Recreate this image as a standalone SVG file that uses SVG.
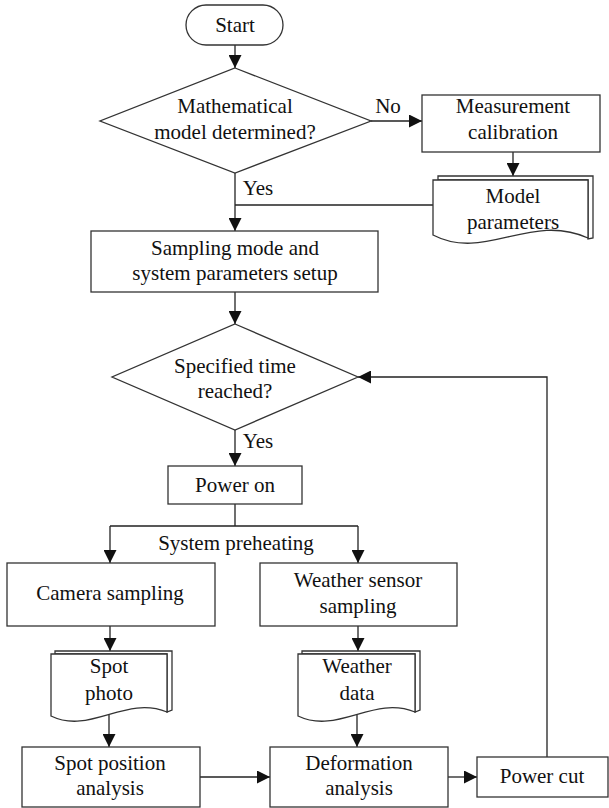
<svg xmlns="http://www.w3.org/2000/svg" width="609" height="808" viewBox="0 0 609 808">
<defs>
<marker id="arr" markerUnits="userSpaceOnUse" markerWidth="13" markerHeight="13" refX="13" refY="6.5" orient="auto">
<path d="M0,0 L13,6.5 L0,13 z" fill="#111"/>
</marker>
</defs>
<style>
.s{fill:#fff;stroke:#333;stroke-width:1.3}
.c{fill:none;stroke:#222;stroke-width:1.3}
.a{marker-end:url(#arr)}
.t{font-size:21px;fill:#111;text-anchor:middle}
</style>
<rect width="609" height="808" fill="#fff"/>
<g id="connectors">
<path class="c a" d="M235,45 V68"/>
<path class="c a" d="M371,121 H422"/>
<path class="c a" d="M513,152 V176"/>
<path class="c" d="M433,205 H235"/>
<path class="c a" d="M235,173 V231"/>
<path class="c a" d="M235,292 V324"/>
<path class="c a" d="M235,430 V466"/>
<path class="c" d="M235,504 V526 M110,526 H358"/>
<path class="c a" d="M110,526 V563"/>
<path class="c a" d="M358,526 V563"/>
<path class="c a" d="M110,626 V651"/>
<path class="c a" d="M109,715 V747"/>
<path class="c a" d="M358,626 V651"/>
<path class="c a" d="M357,715 V747"/>
<path class="c a" d="M200,777 H270"/>
<path class="c a" d="M448,777 H477"/>
<path class="c a" d="M547,757 V377 H358"/>
</g>
<g class="t" font-family="Liberation Serif, Times New Roman, serif">
<g id="start">
<rect class="s" x="186" y="5" width="97" height="40" rx="20"/>
<text x="235" y="32">Start</text>
</g>
<g id="decision1">
<polygon class="s" points="235,68 371,121 235,173 100,121"/>
<text x="235" y="113">Mathematical</text>
<text x="235" y="139">model determined?</text>
</g>
<text x="388" y="113">No</text>
<text x="258" y="195">Yes</text>
<g id="calibration">
<rect class="s" x="422" y="95" width="178" height="57"/>
<text x="513" y="113">Measurement</text>
<text x="513" y="139">calibration</text>
</g>
<g id="model-params">
<path class="s" d="M438,176 H593 V238 L588,239 V180 H438 z"/>
<path class="s" d="M433,180 H588 V238 C530,212 485,262 433,235 z"/>
<text x="513" y="203">Model</text>
<text x="513" y="229">parameters</text>
</g>
<g id="setup">
<rect class="s" x="91" y="231" width="287" height="61"/>
<text x="235" y="255">Sampling mode and</text>
<text x="235" y="280">system parameters setup</text>
</g>
<g id="decision2">
<polygon class="s" points="235,324 358,377 235,430 112,377"/>
<text x="235" y="373">Specified time</text>
<text x="235" y="398">reached?</text>
</g>
<text x="258" y="448">Yes</text>
<g id="power-on">
<rect class="s" x="168" y="466" width="134" height="38"/>
<text x="235" y="492">Power on</text>
</g>
<text x="236" y="550">System preheating</text>
<g id="camera">
<rect class="s" x="7" y="563" width="208" height="63"/>
<text x="110" y="600">Camera sampling</text>
</g>
<g id="weather-sensor">
<rect class="s" x="260" y="563" width="197" height="63"/>
<text x="358" y="587">Weather sensor</text>
<text x="358" y="613">sampling</text>
</g>
<g id="spot-photo">
<path class="s" d="M55,651 H172 V710 L167,712 V654 H55 z"/>
<path class="s" d="M51,654 H167 V712 C125,695 90,735 51,716 z"/>
<text x="109" y="673">Spot</text>
<text x="109" y="700">photo</text>
</g>
<g id="weather-data">
<path class="s" d="M302,651 H420 V710 L415,712 V654 H302 z"/>
<path class="s" d="M298,654 H415 V712 C373,695 338,735 298,716 z"/>
<text x="357" y="673">Weather</text>
<text x="357" y="700">data</text>
</g>
<g id="spot-position">
<rect class="s" x="22" y="747" width="178" height="60"/>
<text x="110" y="770">Spot position</text>
<text x="110" y="795">analysis</text>
</g>
<g id="deformation">
<rect class="s" x="270" y="747" width="178" height="60"/>
<text x="359" y="770">Deformation</text>
<text x="359" y="795">analysis</text>
</g>
<g id="power-cut">
<rect class="s" x="477" y="757" width="131" height="40"/>
<text x="542" y="783">Power cut</text>
</g>
</g>
</svg>
